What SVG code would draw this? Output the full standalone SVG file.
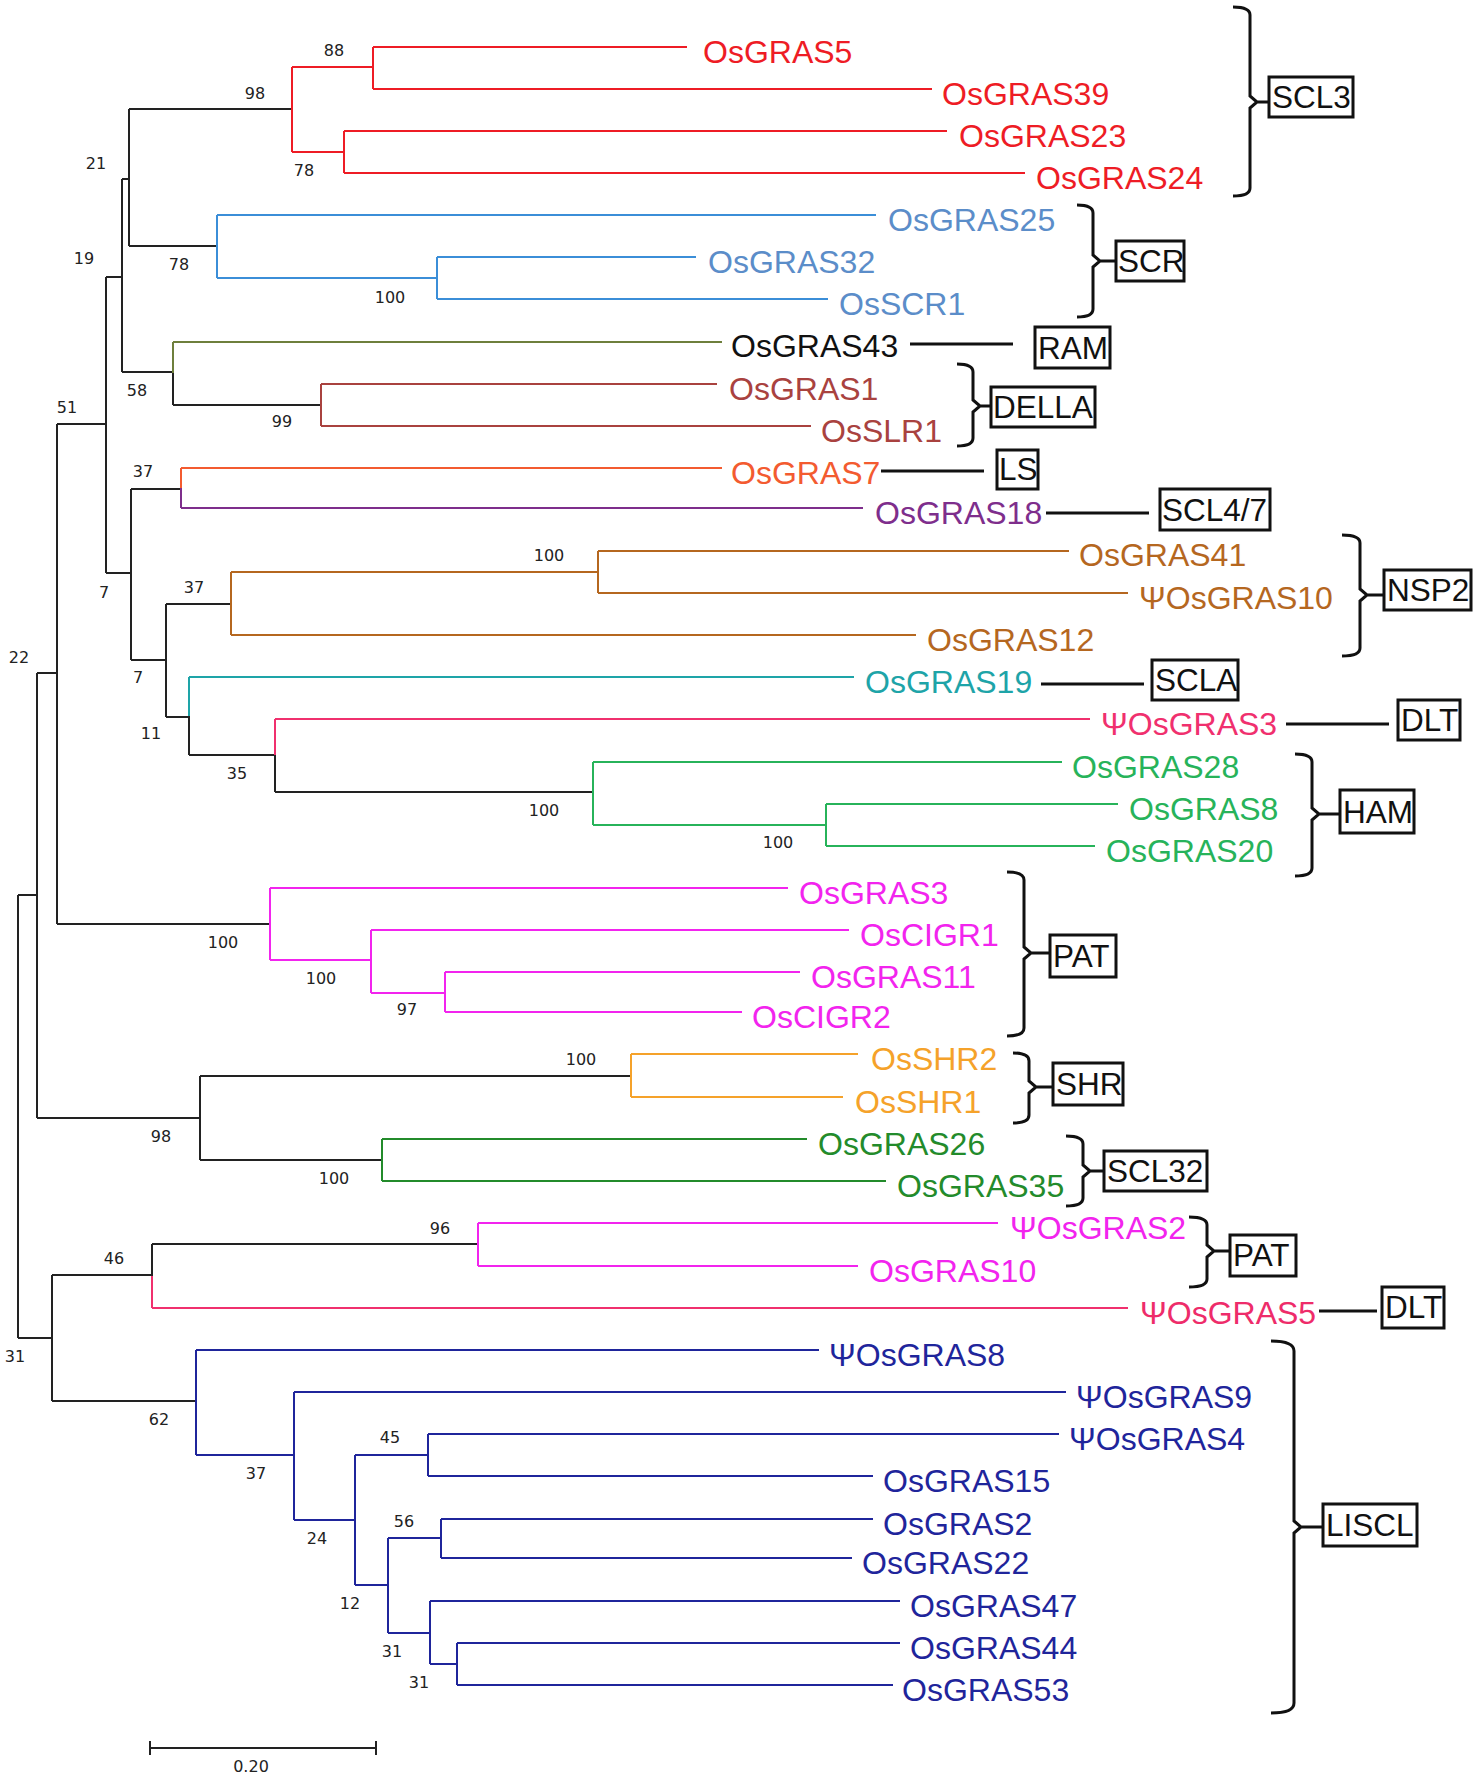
<svg xmlns="http://www.w3.org/2000/svg" width="1477" height="1778" viewBox="0 0 1477 1778">
<style>
.t{font-family:"Liberation Sans",Arial,sans-serif;font-size:32px}
.b{font-family:"DejaVu Sans",Verdana,sans-serif;font-size:16px;fill:#222;text-anchor:middle}
path,line{fill:none;stroke-width:2}
.k{stroke:#222}
.red{stroke:#ee1c25}.blu{stroke:#3b8ed8}.olv{stroke:#6e7f3c}.brr{stroke:#a9423f}.orr{stroke:#f35b30}.pur{stroke:#7e2e8c}.brn{stroke:#b5671f}.tea{stroke:#1ea4a8}.pnk{stroke:#f0306e}.grn{stroke:#27b35a}.mag{stroke:#f224ee}.ora{stroke:#f5a22a}.dgr{stroke:#238b2b}.nav{stroke:#1f259b}
.br{stroke:#111;stroke-width:3;fill:none}
.bx{fill:#fff;stroke:#111;stroke-width:3}
.bl{font-family:"Liberation Sans",Arial,sans-serif;font-size:31.5px;fill:#111}
</style>
<rect width="1477" height="1778" fill="#fff"/>
<g id="connectors">
<path class="k" d="M18 895V1338M18 895H37M18 1338H52M37 673V1118M37 673H57M37 1118H200M57 424V924M57 424H106M57 924H270M106 277V573M106 277H122M106 573H131M122 179V372M122 179H129M122 372H173M129 109V246M129 109H292M129 246H217M173 373V405M173 405H321M131 489V660M131 489H181M131 660H166M166 604V717M166 604H231M166 717H189M189 716V755M189 755H275M275 755V792M275 792H593M200 1076V1160M200 1076H631M200 1160H382M52 1275V1401M52 1275H152M52 1401H196M152 1244V1276M152 1244H478"/>
<path class="red" d="M292 67V152M292 67H373M292 152H344M373 47V89M373 47H687M373 89H932M344 131V173M344 131H947M344 173H1025"/>
<path class="blu" d="M217 215V278M217 215H876M217 278H437M437 257V299M437 257H696M437 299H828"/>
<path class="olv" d="M173 342V373M173 342H722"/>
<path class="brr" d="M321 384V426M321 384H717M321 426H811"/>
<path class="orr" d="M181 468V488M181 468H722"/>
<path class="pur" d="M181 488V508M181 508H863"/>
<path class="brn" d="M231 572V635M231 572H598M231 635H916M598 551V593M598 551H1069M598 593H1128"/>
<path class="tea" d="M189 677V716M189 677H854"/>
<path class="pnk" d="M275 719V755M275 719H1090"/>
<path class="grn" d="M593 762V825M593 762H1062M593 825H826M826 804V846M826 804H1118M826 846H1095"/>
<path class="mag" d="M270 888V960M270 888H788M270 960H371M371 930V993M371 930H849M371 993H445M445 972V1012M445 972H800M445 1012H742"/>
<path class="ora" d="M631 1054V1097M631 1054H858M631 1097H843"/>
<path class="dgr" d="M382 1139V1181M382 1139H807M382 1181H886"/>
<path class="mag" d="M478 1223V1266M478 1223H998M478 1266H858"/>
<path class="pnk" d="M152 1276V1308M152 1308H1128"/>
<path class="nav" d="M196 1350V1455M196 1350H819M196 1455H294M294 1392V1520M294 1392H1066M294 1520H355M355 1455V1585M355 1455H428M355 1585H388M428 1434V1476M428 1434H1059M428 1476H873M388 1538V1633M388 1538H441M388 1633H430M441 1519V1558M441 1519H873M441 1558H852M430 1601V1664M430 1601H900M430 1664H457M457 1643V1685M457 1643H900M457 1685H893"/>
<path class="br" d="M910 344H1013M881 471H984M1046 513H1149M1041 684H1144M1286 724H1389M1319 1311H1377"/>
<path class="br" d="M1233 7Q1250 7 1250 15V96L1257 102L1250 108V188Q1250 196 1233 196M1257 102H1269"/>
<path class="br" d="M1077 205Q1093 205 1093 213V255L1100 261L1093 267V309Q1093 317 1077 317M1100 261H1116"/>
<path class="br" d="M957 364Q973 364 973 372V400L980 406L973 412V438Q973 446 957 446M980 406H991"/>
<path class="br" d="M1342 535Q1360 535 1360 543V589L1367 595L1360 601V648Q1360 656 1342 656M1367 595H1384"/>
<path class="br" d="M1295 754Q1312 754 1312 762V808L1319 814L1312 820V868Q1312 876 1295 876M1319 814H1340"/>
<path class="br" d="M1007 872Q1024 872 1024 880V947L1031 953L1024 959V1028Q1024 1036 1007 1036M1031 953H1050"/>
<path class="br" d="M1013 1053Q1029 1053 1029 1061V1081L1036 1087L1029 1093V1115Q1029 1123 1013 1123M1036 1087H1053"/>
<path class="br" d="M1066 1136Q1083 1136 1083 1144V1165L1090 1171L1083 1177V1198Q1083 1206 1066 1206M1090 1171H1104"/>
<path class="br" d="M1189 1217Q1207 1217 1207 1225V1245L1214 1251L1207 1257V1279Q1207 1287 1189 1287M1214 1251H1230"/>
<path class="br" d="M1271 1341Q1294 1341 1294 1351V1521L1301 1527L1294 1533V1703Q1294 1713 1271 1713M1301 1527H1323"/>
</g>
<g id="leaves" class="t">
<text id="n-OsGRAS5" x="703" y="63" fill="#ee1c25">OsGRAS5</text>
<text id="n-OsGRAS39" x="942" y="105" fill="#ee1c25">OsGRAS39</text>
<text id="n-OsGRAS23" x="959" y="147" fill="#ee1c25">OsGRAS23</text>
<text id="n-OsGRAS24" x="1036" y="189" fill="#ee1c25">OsGRAS24</text>
<text id="n-OsGRAS25" x="888" y="231" fill="#5b8dc9">OsGRAS25</text>
<text id="n-OsGRAS32" x="708" y="273" fill="#5b8dc9">OsGRAS32</text>
<text id="n-OsSCR1" x="839" y="315" fill="#5b8dc9">OsSCR1</text>
<text id="n-OsGRAS43" x="731" y="357" fill="#111">OsGRAS43</text>
<text id="n-OsGRAS1" x="729" y="400" fill="#a9423f">OsGRAS1</text>
<text id="n-OsSLR1" x="821" y="442" fill="#a9423f">OsSLR1</text>
<text id="n-OsGRAS7" x="731" y="484" fill="#f35b30">OsGRAS7</text>
<text id="n-OsGRAS18" x="875" y="524" fill="#7e2e8c">OsGRAS18</text>
<text id="n-OsGRAS41" x="1079" y="566" fill="#b5671f">OsGRAS41</text>
<text id="n-POsGRAS10" x="1139" y="609" fill="#b5671f">ΨOsGRAS10</text>
<text id="n-OsGRAS12" x="927" y="651" fill="#b5671f">OsGRAS12</text>
<text id="n-OsGRAS19" x="865" y="693" fill="#1ea4a8">OsGRAS19</text>
<text id="n-POsGRAS3" x="1101" y="735" fill="#f0306e">ΨOsGRAS3</text>
<text id="n-OsGRAS28" x="1072" y="778" fill="#27b35a">OsGRAS28</text>
<text id="n-OsGRAS8" x="1129" y="820" fill="#27b35a">OsGRAS8</text>
<text id="n-OsGRAS20" x="1106" y="862" fill="#27b35a">OsGRAS20</text>
<text id="n-OsGRAS3" x="799" y="904" fill="#f224ee">OsGRAS3</text>
<text id="n-OsCIGR1" x="860" y="946" fill="#f224ee">OsCIGR1</text>
<text id="n-OsGRAS11" x="811" y="988" fill="#f224ee">OsGRAS11</text>
<text id="n-OsCIGR2" x="752" y="1028" fill="#f224ee">OsCIGR2</text>
<text id="n-OsSHR2" x="871" y="1070" fill="#f5a22a">OsSHR2</text>
<text id="n-OsSHR1" x="855" y="1113" fill="#f5a22a">OsSHR1</text>
<text id="n-OsGRAS26" x="818" y="1155" fill="#238b2b">OsGRAS26</text>
<text id="n-OsGRAS35" x="897" y="1197" fill="#238b2b">OsGRAS35</text>
<text id="n-POsGRAS2" x="1010" y="1239" fill="#f224ee">ΨOsGRAS2</text>
<text id="n-OsGRAS10" x="869" y="1282" fill="#f224ee">OsGRAS10</text>
<text id="n-POsGRAS5" x="1140" y="1324" fill="#ee2c6a">ΨOsGRAS5</text>
<text id="n-POsGRAS8" x="829" y="1366" fill="#1f259b">ΨOsGRAS8</text>
<text id="n-POsGRAS9" x="1076" y="1408" fill="#1f259b">ΨOsGRAS9</text>
<text id="n-POsGRAS4" x="1069" y="1450" fill="#1f259b">ΨOsGRAS4</text>
<text id="n-OsGRAS15" x="883" y="1492" fill="#1f259b">OsGRAS15</text>
<text id="n-OsGRAS2" x="883" y="1535" fill="#1f259b">OsGRAS2</text>
<text id="n-OsGRAS22" x="862" y="1574" fill="#1f259b">OsGRAS22</text>
<text id="n-OsGRAS47" x="910" y="1617" fill="#1f259b">OsGRAS47</text>
<text id="n-OsGRAS44" x="910" y="1659" fill="#1f259b">OsGRAS44</text>
<text id="n-OsGRAS53" x="902" y="1701" fill="#1f259b">OsGRAS53</text>
</g>
<g id="clades">
<g id="c-SCL3"><rect class="bx" x="1269" y="77" width="84" height="40"/><text class="bl" x="1272" y="108">SCL3</text></g>
<g id="c-SCR"><rect class="bx" x="1116" y="241" width="68" height="40"/><text class="bl" x="1118" y="272">SCR</text></g>
<g id="c-RAM"><rect class="bx" x="1035" y="327" width="75" height="41"/><text class="bl" x="1038" y="359">RAM</text></g>
<g id="c-DELLA"><rect class="bx" x="991" y="387" width="104" height="40"/><text class="bl" x="993" y="418">DELLA</text></g>
<g id="c-LS"><rect class="bx" x="997" y="450" width="41" height="39"/><text class="bl" x="999" y="480">LS</text></g>
<g id="c-SCL47"><rect class="bx" x="1160" y="489" width="110" height="41"/><text class="bl" x="1162" y="521">SCL4/7</text></g>
<g id="c-NSP2"><rect class="bx" x="1384" y="570" width="87" height="40"/><text class="bl" x="1387" y="601">NSP2</text></g>
<g id="c-SCLA"><rect class="bx" x="1152" y="660" width="86" height="40"/><text class="bl" x="1155" y="691">SCLA</text></g>
<g id="c-DLT1"><rect class="bx" x="1398" y="700" width="62" height="40"/><text class="bl" x="1401" y="731">DLT</text></g>
<g id="c-HAM"><rect class="bx" x="1340" y="790" width="74" height="43"/><text class="bl" x="1343" y="823">HAM</text></g>
<g id="c-PAT1"><rect class="bx" x="1050" y="935" width="66" height="42"/><text class="bl" x="1053" y="967">PAT</text></g>
<g id="c-SHR"><rect class="bx" x="1053" y="1063" width="70" height="42"/><text class="bl" x="1056" y="1095">SHR</text></g>
<g id="c-SCL32"><rect class="bx" x="1104" y="1151" width="103" height="40"/><text class="bl" x="1107" y="1182">SCL32</text></g>
<g id="c-PAT2"><rect class="bx" x="1230" y="1235" width="66" height="41"/><text class="bl" x="1233" y="1266">PAT</text></g>
<g id="c-DLT2"><rect class="bx" x="1382" y="1287" width="62" height="41"/><text class="bl" x="1385" y="1318">DLT</text></g>
<g id="c-LISCL"><rect class="bx" x="1323" y="1504" width="94" height="42"/><text class="bl" x="1326" y="1536">LISCL</text></g>
</g>
<g id="bootstrap" class="b">
<text x="334" y="56">88</text><text x="255" y="99">98</text><text x="304" y="176">78</text><text x="96" y="169">21</text>
<text x="179" y="270">78</text><text x="390" y="303">100</text><text x="84" y="264">19</text><text x="137" y="396">58</text>
<text x="282" y="427">99</text><text x="67" y="413">51</text><text x="143" y="477">37</text><text x="104" y="598">7</text>
<text x="194" y="593">37</text><text x="549" y="561">100</text><text x="138" y="683">7</text><text x="151" y="739">11</text>
<text x="237" y="779">35</text><text x="544" y="816">100</text><text x="778" y="848">100</text><text x="19" y="663">22</text>
<text x="223" y="948">100</text><text x="321" y="984">100</text><text x="407" y="1015">97</text><text x="161" y="1142">98</text>
<text x="581" y="1065">100</text><text x="334" y="1184">100</text><text x="440" y="1234">96</text><text x="114" y="1264">46</text>
<text x="15" y="1362">31</text><text x="159" y="1425">62</text><text x="256" y="1479">37</text><text x="317" y="1544">24</text>
<text x="390" y="1443">45</text><text x="350" y="1609">12</text><text x="404" y="1527">56</text><text x="392" y="1657">31</text>
<text x="419" y="1688">31</text>
</g>
<g id="scale">
<path class="k" d="M150 1748H376M150 1741V1755M376 1741V1755"/>
<text class="b" x="251" y="1772">0.20</text>
</g>
</svg>
